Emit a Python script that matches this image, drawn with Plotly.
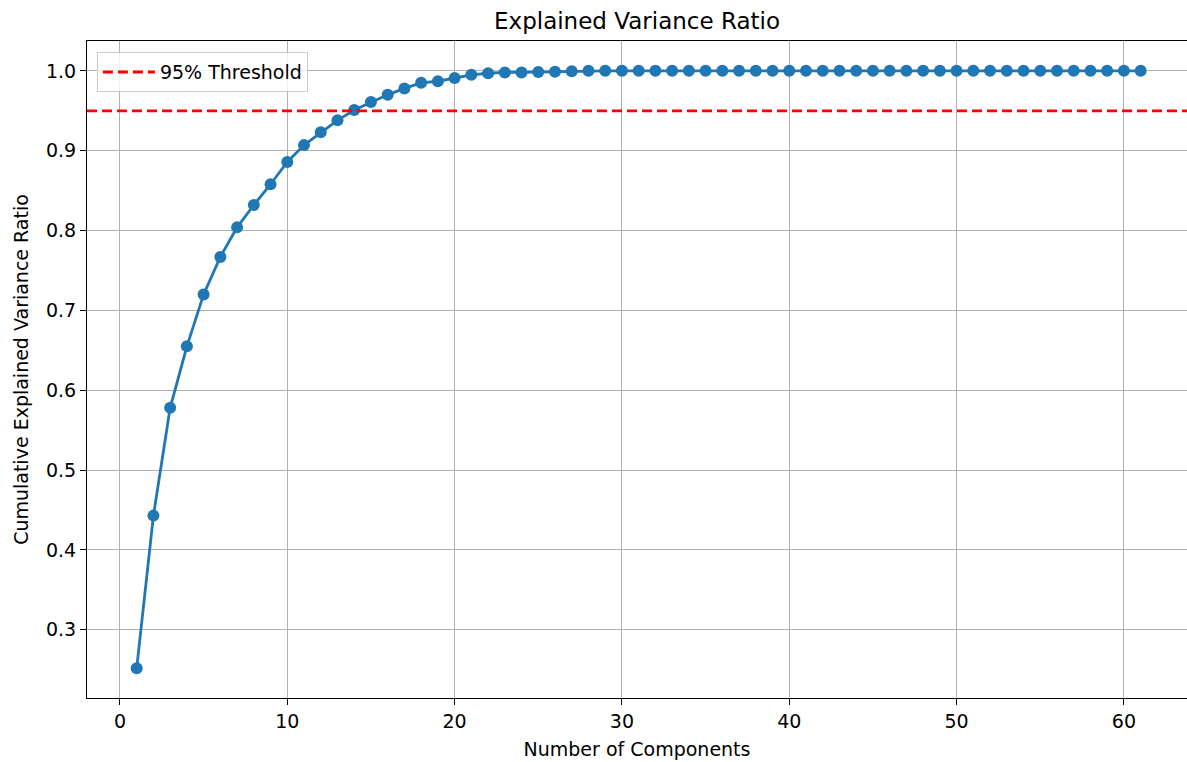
import plotly.graph_objects as go

# ---- data ----
components = list(range(1, 62))
cumulative_variance = [
    0.252, 0.443, 0.578, 0.655, 0.720, 0.767, 0.804, 0.832, 0.858, 0.886,
    0.907, 0.923, 0.938, 0.951, 0.961, 0.970, 0.978, 0.985, 0.987, 0.991,
    0.995, 0.997, 0.998, 0.998, 0.9985, 0.999, 0.9995, 1.0, 1.0, 1.0,
    1.0, 1.0, 1.0, 1.0, 1.0, 1.0, 1.0, 1.0, 1.0, 1.0,
    1.0, 1.0, 1.0, 1.0, 1.0, 1.0, 1.0, 1.0, 1.0, 1.0,
    1.0, 1.0, 1.0, 1.0, 1.0, 1.0, 1.0, 1.0, 1.0, 1.0,
    1.0,
]
threshold = 0.95
threshold_label = "95% Threshold"
x_ticks = [0, 10, 20, 30, 40, 50, 60]
y_ticks = [0.3, 0.4, 0.5, 0.6, 0.7, 0.8, 0.9, 1.0]

FONT = "DejaVu Sans"
W, H = 1187, 762
ML, MR, MT, MB = 87, 0, 41, 64

fig = go.Figure()
fig.add_trace(go.Scatter(
    x=components, y=cumulative_variance, mode="lines+markers",
    line=dict(color="#1f77b4", width=2.8),
    marker=dict(color="#1f77b4", size=12, line=dict(width=0)),
    showlegend=False, hoverinfo="skip",
))
# legend entry for the threshold line
fig.add_trace(go.Scatter(
    x=[None], y=[None], mode="lines", name=threshold_label,
    line=dict(color="red", width=2.8, dash="10px,5px"),
))
fig.add_hline(y=threshold, line=dict(color="red", width=2.8, dash="10px,5px"))

axis_common = dict(
    showline=True, linecolor="black", linewidth=1.2, mirror=True,
    ticks="outside", ticklen=6, tickwidth=1.2, tickcolor="black",
    showgrid=True, gridcolor="#b0b0b0", gridwidth=1.1,
    zeroline=False,
    tickfont=dict(family=FONT, size=19, color="black"),
)

fig.update_layout(
    width=W, height=H,
    margin=dict(l=ML, r=MR, t=MT, b=MB),
    paper_bgcolor="white", plot_bgcolor="white",
    font=dict(family=FONT, color="black"),
    title=dict(text="Explained Variance Ratio", x=0.5, xref="paper",
               y=1 - 21 / H, yref="container", yanchor="middle",
               font=dict(family=FONT, size=23, color="black")),
    xaxis=dict(axis_common, range=[-1.97, 63.77], tickvals=x_ticks,
               title=dict(text="Number of Components", standoff=11,
                          font=dict(family=FONT, size=19, color="black"))),
    yaxis=dict(axis_common, range=[0.2146, 1.0374], tickvals=y_ticks,
               tickformat=".1f",
               title=dict(text="Cumulative Explained Variance Ratio", standoff=12,
                          font=dict(family=FONT, size=19, color="black"))),
    legend=dict(x=0.009, y=0.983, xanchor="left", yanchor="top",
                itemwidth=52,
                bgcolor="rgba(255,255,255,0.8)", bordercolor="#cccccc",
                borderwidth=1, font=dict(family=FONT, size=19, color="black")),
)

fig.write_html("out.html", config={"displayModeBar": False},
               post_script="document.body.style.margin='0';")
